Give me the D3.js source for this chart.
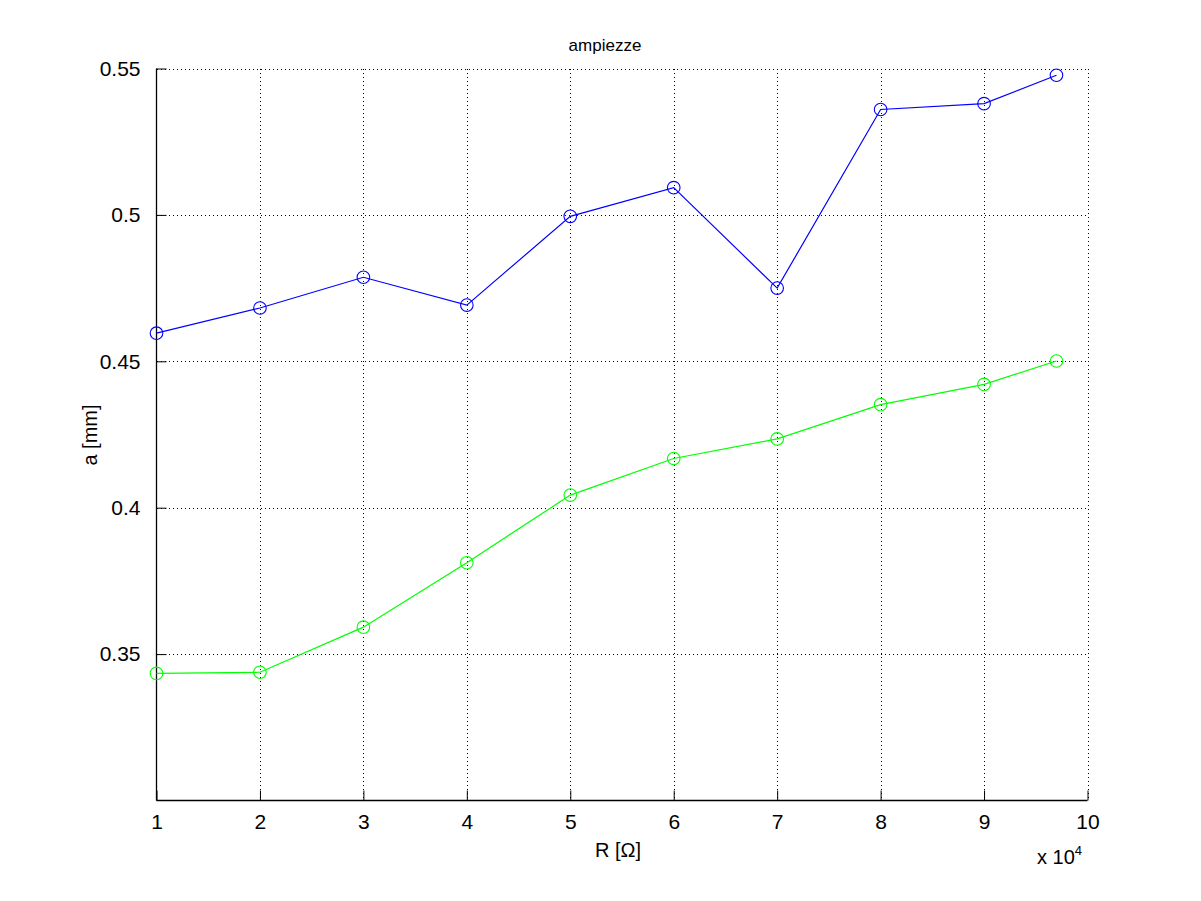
<!doctype html>
<html>
<head>
<meta charset="UTF-8">
<title>ampiezze</title>
<script src="https://d3js.org/d3.v7.min.js"></script>
<style>
  body { margin: 0; background: #fff; }
  * { font-family: "Liberation Sans", Arial, sans-serif; }
</style>
</head>
<body>
<svg id="chart" width="1201" height="901"></svg>
<script>
// resistances, in units of 10^4 ohm
var resistances = [1, 2, 3, 4, 5, 6, 7, 8, 9, 9.7];
// amplitudes [mm]
var ampBlue  = [0.4596, 0.4682, 0.4787, 0.4692, 0.4995, 0.5093, 0.4750, 0.5360, 0.5380, 0.5477];
var ampGreen = [0.3434, 0.3438, 0.3592, 0.3812, 0.4043, 0.4168, 0.4235, 0.4352, 0.4421, 0.4501];
var xTicks = [1, 2, 3, 4, 5, 6, 7, 8, 9, 10];
var yTicks = [0.35, 0.40, 0.45, 0.50, 0.55];

var plotL = 156.5, plotR = 1087.5, plotT = 68.5, plotB = 800.5;

var svg = d3.select("#chart");

var x = d3.scaleLinear().domain([1, 10]).range([plotL, plotR]);
var y = d3.scaleLinear().domain([0.30, 0.55]).range([plotB, plotT]);

// dotted grid
var grid = svg.append("g").attr("shape-rendering", "crispEdges");
grid.selectAll(".gx").data(xTicks.slice(1)).enter().append("line")
    .attr("x1", d => Math.round(x(d)) + 0.5).attr("x2", d => Math.round(x(d)) + 0.5)
    .attr("y1", plotT).attr("y2", plotB)
    .attr("stroke", "#000").attr("stroke-width", 1)
    .attr("stroke-dasharray", "1,3");
grid.selectAll(".gy").data(yTicks).enter().append("line")
    .attr("x1", plotL).attr("x2", plotR)
    .attr("y1", d => Math.round(y(d)) + 0.5).attr("y2", d => Math.round(y(d)) + 0.5)
    .attr("stroke", "#000").attr("stroke-width", 1)
    .attr("stroke-dasharray", "1,3");

// axes (ticks inside)
var xAxis = d3.axisBottom(x).tickValues(xTicks).tickSize(-10).tickPadding(14)
    .tickFormat(d3.format("d"));
var gx = svg.append("g").attr("transform", "translate(0," + plotB + ")").call(xAxis);

var yAxis = d3.axisLeft(y).tickValues(yTicks).tickSize(-10).tickPadding(16)
    .tickFormat(d => d3.format(".2~f")(d));
var gy = svg.append("g").attr("transform", "translate(" + plotL + ",0)").call(yAxis);

[gx, gy].forEach(function(g) {
    g.attr("font-size", 21).attr("font-family", "Liberation Sans, Arial, sans-serif");
    g.select(".domain").attr("stroke", "#000").attr("stroke-width", 1.3);
    g.selectAll(".tick line").attr("stroke", "#000").attr("stroke-width", 1);
    g.selectAll(".tick text").attr("fill", "#000");
});
gx.select(".domain").attr("d", "M" + plotL + ",0H" + plotR);
gy.select(".domain").attr("d", "M0," + plotB + "V" + plotT);

// series
var line = d3.line().x(d => x(d[0])).y(d => y(d[1]));

function drawSeries(vals, color) {
    var pts = resistances.map((r, i) => [r, vals[i]]);
    svg.append("path").datum(pts)
        .attr("d", line).attr("fill", "none")
        .attr("stroke", color).attr("stroke-width", 1.2);
    svg.append("g").selectAll("circle").data(pts).enter().append("circle")
        .attr("cx", d => x(d[0])).attr("cy", d => y(d[1]))
        .attr("r", 6.3).attr("fill", "none")
        .attr("stroke", color).attr("stroke-width", 1.1);
}
drawSeries(ampBlue, "#0000ff");
drawSeries(ampGreen, "#00ff00");

// labels
svg.append("text").attr("x", 605).attr("y", 51).attr("text-anchor", "middle")
    .attr("font-size", 17).text("ampiezze");
svg.append("text").attr("x", 618).attr("y", 857).attr("text-anchor", "middle")
    .attr("font-size", 20).text("R [\u03A9]");
svg.append("text").attr("transform", "translate(97,435) rotate(-90)")
    .attr("text-anchor", "middle").attr("font-size", 20).text("a [mm]");

var mult = svg.append("text").attr("x", 1037).attr("y", 864).attr("font-size", 20);
mult.append("tspan").text("x 10");
mult.append("tspan").attr("dy", -9).attr("font-size", 13).text("4");
</script>
</body>
</html>
